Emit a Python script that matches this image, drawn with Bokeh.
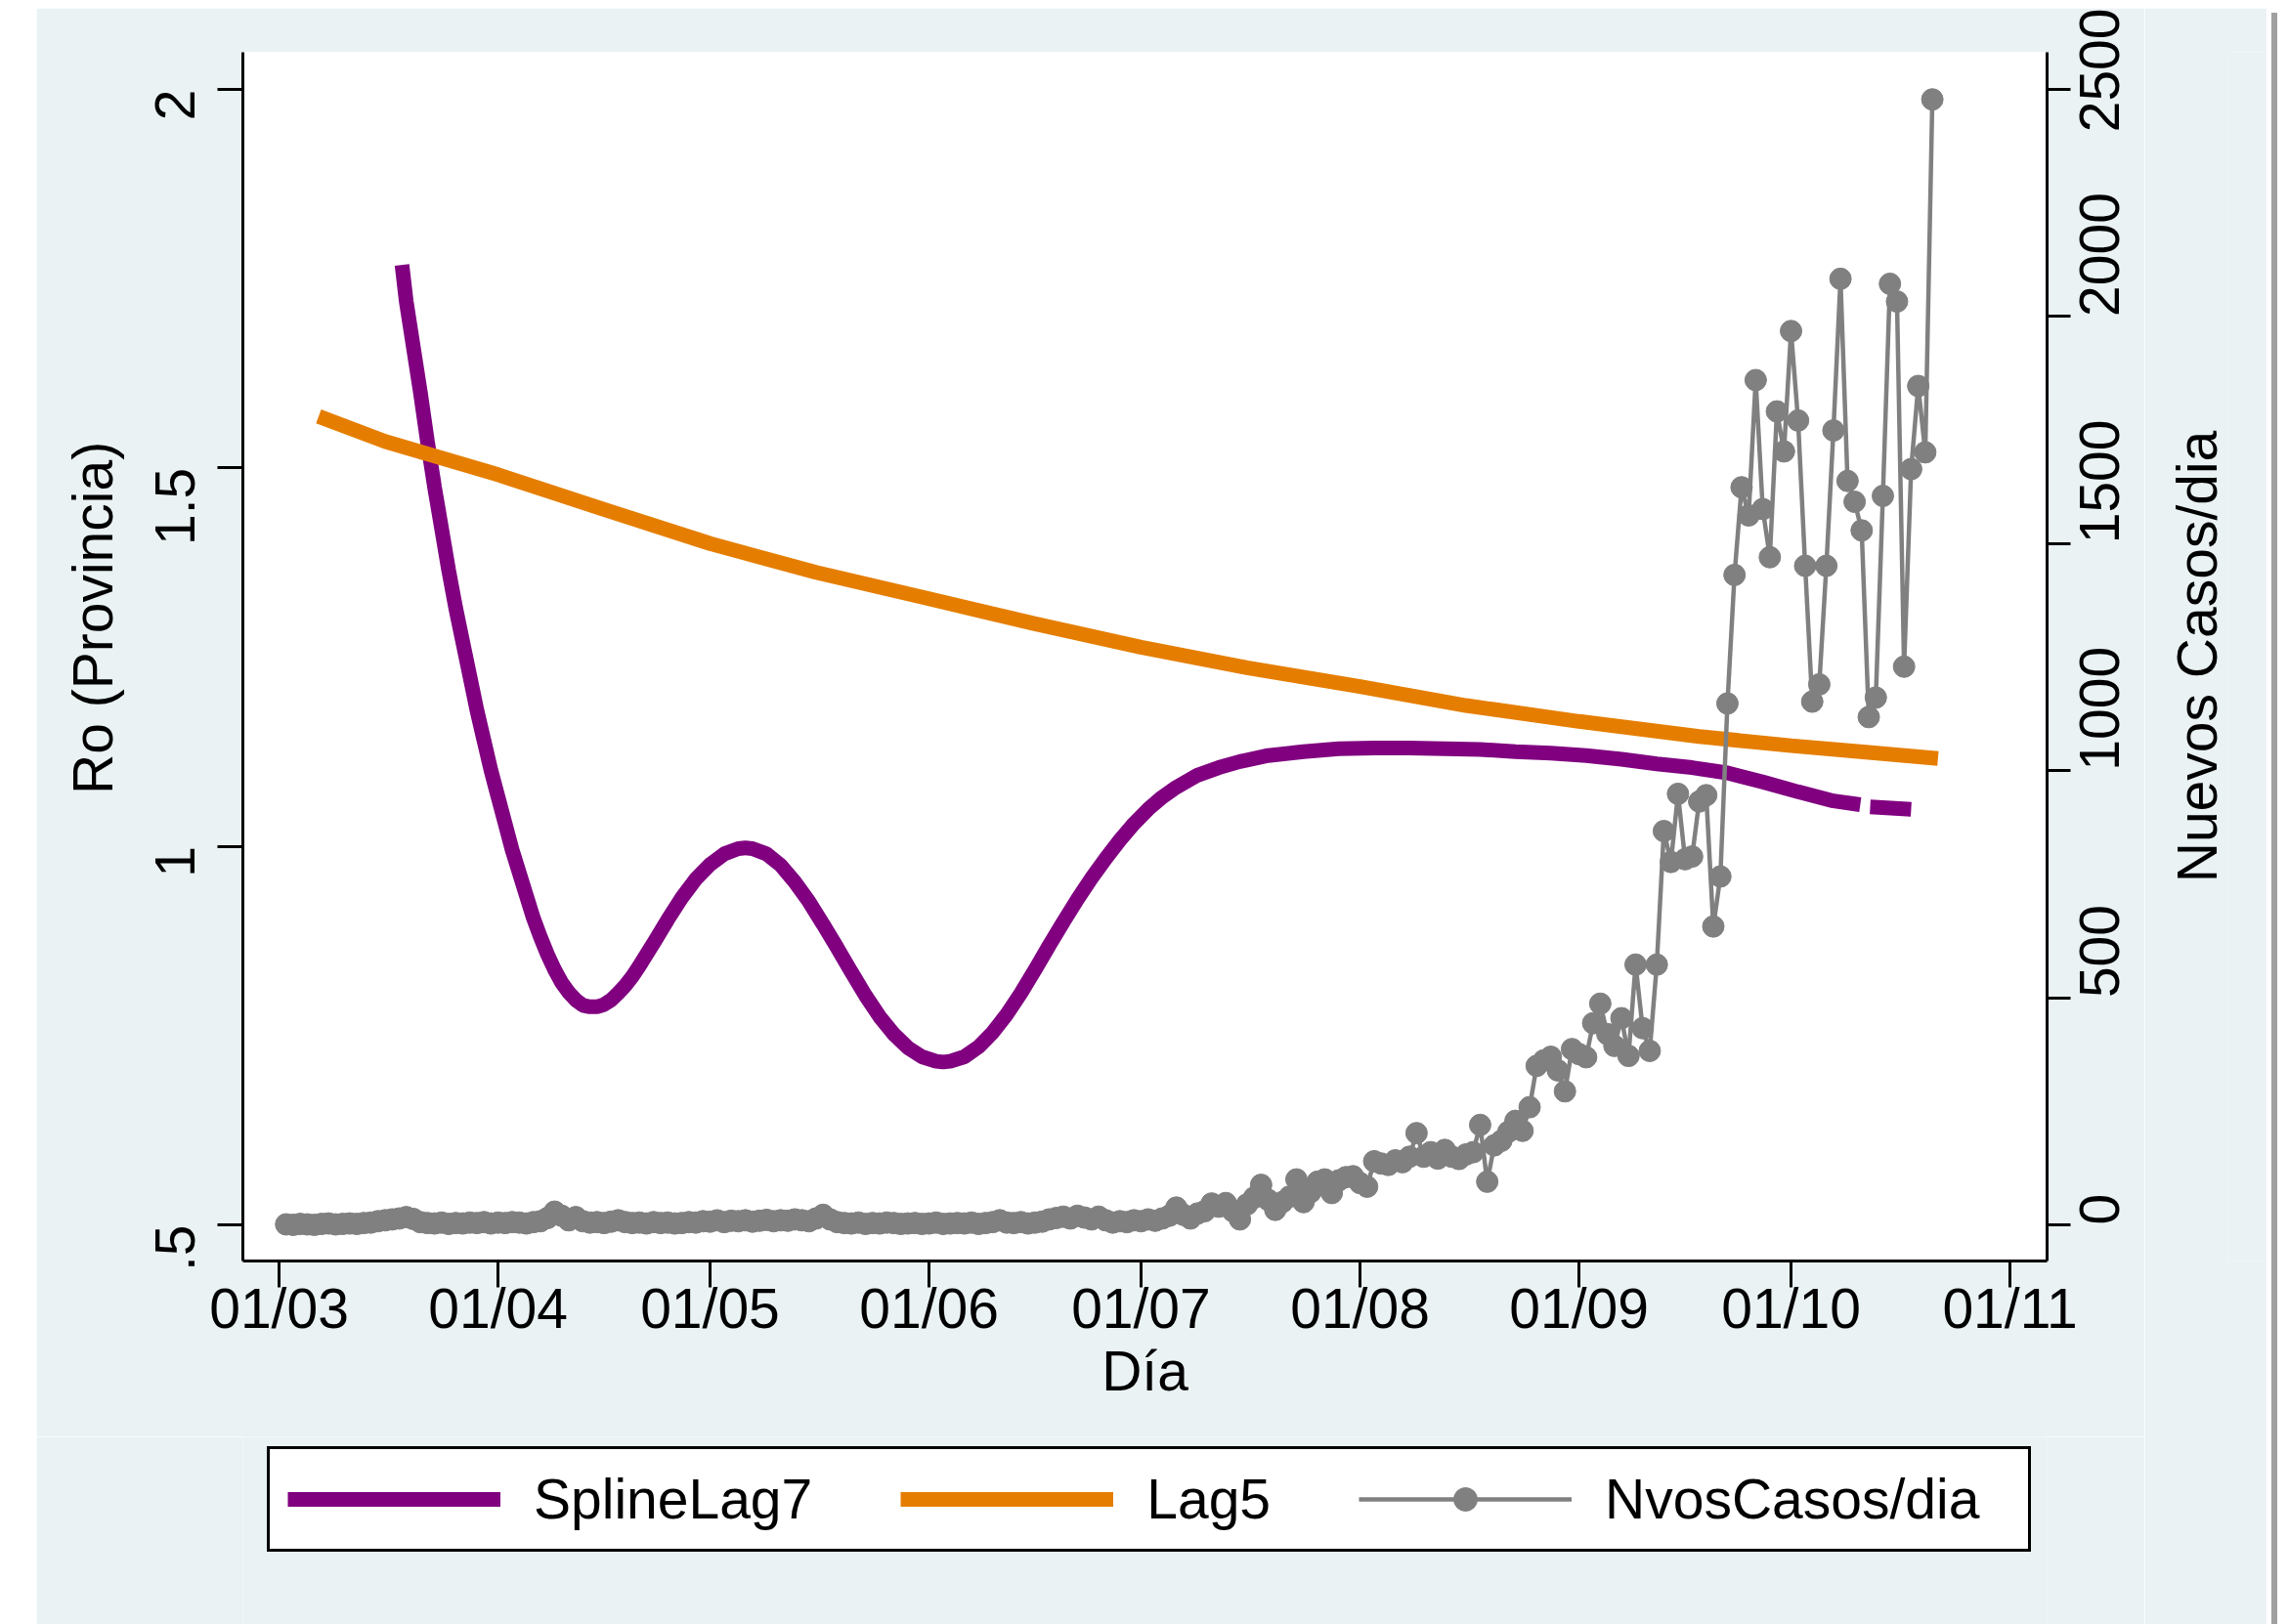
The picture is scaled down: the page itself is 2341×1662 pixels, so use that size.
import math
import pandas as pd
from bokeh.plotting import figure
from bokeh.models import (Range1d, LinearAxis, FixedTicker, DatetimeTickFormatter,
                          Legend, LegendItem, Spacer, Div, ColumnDataSource)
from bokeh.layouts import row, column
from bokeh.embed import file_html
from bokeh.resources import INLINE

FONT = "Liberation Sans"
FS = "57px"
BG = "#EAF2F3"
NBSP = "\u00a0"

# ---------------- data ----------------
base_date = "2020-03-01"          # day 0 of the day offsets below

cases_first_day = 1               # 02/03
cases = [
    1, 0, 2, 1, 0, 2, 3, 1, 2, 3, 2, 4, 5,
    8, 10, 12, 14, 17, 13,
    6, 4, 3, 5, 2, 4, 3, 5, 4, 6, 3, 5, 4, 6, 5, 3, 6, 8,
    15, 29, 20, 10, 17, 8, 5, 6, 4, 7,
    10, 6, 4, 5, 3, 6, 4, 5, 3, 4, 6, 5,
    8, 7, 10, 6, 9, 8, 10, 7, 9, 11, 8, 10, 9, 12, 10, 8, 14,
    22, 12, 6, 4,
    3, 5, 2, 4, 3, 5, 4, 2, 3, 4, 2, 3, 5, 2, 3, 4, 3, 5, 2, 4, 6,
    10, 5, 4, 6, 3, 5, 7,
    12, 15, 18, 14, 20, 16, 12, 18, 10,
    5, 8, 6, 10, 8, 12, 9, 14, 20, 38, 22, 14, 25, 30, 47, 40, 48, 30, 12, 45, 60, 88,
    55, 33, 50, 62, 100, 50, 72, 95, 100, 70, 98, 105, 107, 92, 84, 140, 135, 132,
    142, 138, 150, 202, 150, 160, 146, 165, 150, 145, 155, 160, 220, 95, 175, 185, 205, 229,
    207, 259, 350, 362, 370, 340, 294, 387, 376, 369, 444, 487, 420, 394, 455, 372, 573,
    433, 383, 573, 867, 799, 949, 805, 811, 932, 946, 657, 767,
    1148, 1431, 1624, 1562, 1860, 1576, 1470, 1791, 1703, 1968, 1771, 1451, 1152, 1190,
    1451, 1749, 2083, 1638, 1592, 1529, 1118, 1161, 1605, 2072, 2033, 1229, 1664, 1847,
    1701, 2478,
]

NAN = float("nan")
spline_day = [
    17.4, 18, 19, 20, 21, 22, 23, 24, 25, 26, 27, 28, 29, 30, 31, 32, 33, 34, 35, 36,
    37, 38, 39, 40, 41, 42, 43, 44, 45, 46, 47, 48, 49, 50, 51, 53, 55, 57, 59, 61,
    63, 65, 66, 67, 69, 71, 73, 75, 77, 79, 81, 83, 85, 87, 89, 91, 93, 94, 95, 97,
    99, 101, 103, 105, 107, 109, 111, 113, 115, 117, 119, 121, 123, 125, 127, 130, 133, 136,
    140, 145, 150, 155, 160, 165, 170, 175, 180, 185, 190, 195, 200, 205, 210, 215,
    220, 223.8, 224.5, 225.2, 231,
]
spline_vals = [
    1.768, 1.72, 1.66, 1.60, 1.535, 1.475, 1.42, 1.365, 1.315, 1.27, 1.225, 1.18, 1.14,
    1.10, 1.065, 1.03, 0.995, 0.965, 0.935, 0.905,
    0.88, 0.857, 0.837, 0.82, 0.807, 0.797, 0.79, 0.788, 0.788, 0.791, 0.797, 0.806,
    0.816, 0.828, 0.842, 0.872, 0.903, 0.932, 0.957, 0.976,
    0.99, 0.997, 0.998, 0.997, 0.99, 0.975, 0.953, 0.927, 0.897, 0.866, 0.834, 0.803,
    0.775, 0.752, 0.734, 0.722, 0.716, 0.715, 0.716, 0.722,
    0.735, 0.754, 0.778, 0.806, 0.837, 0.869, 0.90, 0.93, 0.958, 0.984, 1.008, 1.03,
    1.049, 1.065, 1.078, 1.094, 1.104, 1.112,
    1.12, 1.125, 1.129, 1.13, 1.13, 1.129, 1.128, 1.125, 1.123, 1.12, 1.115, 1.109,
    1.104, 1.097, 1.085, 1.072,
    1.06, 1.055, NAN, 1.052, 1.049,
]

lag5_day = [5.6, 15, 31, 46, 61, 76, 92, 107, 122, 137, 153, 168, 184, 201, 214, 225, 234.8]
lag5_vals = [1.568, 1.535, 1.491, 1.445, 1.400, 1.362, 1.327, 1.294, 1.263, 1.236,
             1.211, 1.186, 1.165, 1.145, 1.133, 1.124, 1.116]

month_ticks = ["2020-03-01", "2020-04-01", "2020-05-01", "2020-06-01", "2020-07-01",
               "2020-08-01", "2020-09-01", "2020-10-01", "2020-11-01"]
left_ticks = [0.5, 1, 1.5, 2]
left_labels = [".5", "1", "1.5", "2"]
right_ticks = [0, 500, 1000, 1500, 2000, 2500]

x_limits_day = (-5.12, 250.24)
y_limits = (0.4522, 2.049)
cases_limits = (-79.6, 2581.8)

series_names = ["SplineLag7", "Lag5", "NvosCasos/dia"]
series_colors = ["#800080", "#E57E00", "#808080"]
x_title = "Día"
y_title = "Ro (Provincia)"
y2_title = "Nuevos Casos/dia"

BASE = pd.Timestamp(base_date)


def to_dt(days):
    return [BASE + pd.Timedelta(days=float(d)) for d in days]


def ms(ts):
    return pd.Timestamp(ts).value / 1e6


# ---------------- main figure ----------------
p = figure(width=2157, height=1462, x_axis_type="datetime",
           output_backend="svg", toolbar_location=None,
           x_range=Range1d(ms(to_dt([x_limits_day[0]])[0]), ms(to_dt([x_limits_day[1]])[0])),
           y_range=Range1d(*y_limits),
           min_border_left=211, min_border_right=100,
           min_border_top=45, min_border_bottom=180)
p.extra_y_ranges = {"cases": Range1d(*cases_limits)}
p.background_fill_color = "white"
p.border_fill_color = BG
p.outline_line_color = None
p.xgrid.visible = False
p.ygrid.visible = False

spline_src = ColumnDataSource(dict(x=to_dt(spline_day), y=spline_vals))
lag5_src = ColumnDataSource(dict(x=to_dt(lag5_day), y=lag5_vals))
case_days = list(range(cases_first_day, cases_first_day + len(cases)))
case_src = ColumnDataSource(dict(x=to_dt(case_days), y=cases))

p.line("x", "y", source=spline_src, line_color=series_colors[0], line_width=15)
p.line("x", "y", source=lag5_src, line_color=series_colors[1], line_width=15)
p.line("x", "y", source=case_src, line_color=series_colors[2], line_width=4.5,
       y_range_name="cases")
p.scatter("x", "y", source=case_src, size=22, fill_color=series_colors[2],
          line_color=series_colors[2], y_range_name="cases")


def style(ax, standoff, tick_out):
    ax.axis_line_color = "black"
    ax.axis_line_width = 3
    ax.major_tick_line_color = "black"
    ax.major_tick_line_width = 3
    ax.major_tick_out = tick_out
    ax.major_tick_in = 0
    ax.minor_tick_line_color = None
    ax.major_label_text_font = FONT
    ax.major_label_text_font_size = FS
    ax.major_label_text_color = "black"
    ax.major_label_standoff = standoff
    ax.axis_label_text_font = FONT
    ax.axis_label_text_font_size = FS
    ax.axis_label_text_font_style = "normal"
    ax.axis_label_text_color = "black"


xa = p.xaxis[0]
xa.ticker = FixedTicker(ticks=[ms(t) for t in month_ticks])
fmt = "%d/%m"
xa.formatter = DatetimeTickFormatter(microseconds=fmt, milliseconds=fmt, seconds=fmt,
                                     minsec=fmt, minutes=fmt, hourmin=fmt, hours=fmt,
                                     days=fmt, months=fmt, years=fmt)
style(xa, -11, 27)
xa.axis_label = x_title
xa.axis_label_standoff = -3

ya = p.yaxis[0]
ya.ticker = FixedTicker(ticks=left_ticks)
ya.major_label_overrides = {t: l for t, l in zip(left_ticks, left_labels)}
style(ya, 43, 26)
ya.major_label_orientation = math.pi / 2
# leading no-break spaces lift the centred title a little, as in the original
ya.axis_label = NBSP * 5 + y_title
ya.axis_label_standoff = 10

ra = LinearAxis(y_range_name="cases", ticker=FixedTicker(ticks=right_ticks))
style(ra, 30, 24)
ra.major_label_orientation = math.pi / 2
p.add_layout(ra, "right")

# ---------------- right title strip: its left-axis title reads bottom-to-top ----------------
pt = figure(width=125, height=1654, output_backend="svg", toolbar_location=None,
            x_range=Range1d(0, 1), y_range=Range1d(0, 1), x_axis_location=None,
            min_border_left=85, min_border_right=0, min_border_top=45, min_border_bottom=372)
pt.background_fill_color = BG
pt.border_fill_color = BG
pt.outline_line_color = None
pt.grid.visible = False
ta = pt.yaxis[0]
ta.ticker = FixedTicker(ticks=[])
ta.axis_line_color = None
ta.major_tick_line_color = None
ta.minor_tick_line_color = None
ta.axis_label = y2_title
ta.axis_label_text_font = FONT
ta.axis_label_text_font_size = FS
ta.axis_label_text_font_style = "normal"
ta.axis_label_text_color = "black"
ta.axis_label_standoff = 0

# ---------------- legend strip (own figure so the box is not clipped) ----------------
pl = figure(width=2157, height=192, output_backend="svg", toolbar_location=None,
            x_range=Range1d(0, 1), y_range=Range1d(0, 1),
            x_axis_location=None, y_axis_location=None,
            min_border_left=0, min_border_right=0, min_border_top=0, min_border_bottom=0)
pl.background_fill_color = BG
pl.border_fill_color = BG
pl.outline_line_color = None
pl.grid.visible = False
# same data sources; they fall outside this strip's ranges, only the legend shows
g1 = pl.line("x", "y", source=spline_src, line_color=series_colors[0], line_width=15)
g2 = pl.line("x", "y", source=lag5_src, line_color=series_colors[1], line_width=15)
g3 = pl.line("x", "y", source=case_src, line_color=series_colors[2], line_width=4.5)
g4 = pl.scatter("x", "y", source=case_src, size=22, fill_color=series_colors[2],
                line_color=series_colors[2])

legend = Legend(items=[LegendItem(label=series_names[0], renderers=[g1]),
                       LegendItem(label=series_names[1], renderers=[g2]),
                       LegendItem(label=series_names[2] + NBSP * 2, renderers=[g3, g4])],
                location=(25, 74), orientation="horizontal", margin=0,
                padding=18, spacing=90, glyph_width=218, glyph_height=60,
                label_standoff=34, label_text_font=FONT, label_text_font_size=FS,
                label_text_baseline="middle", label_text_color="black",
                border_line_color="black", border_line_width=3, border_line_alpha=1.0,
                background_fill_color="white", background_fill_alpha=1.0)
pl.add_layout(legend)

layout = column(Spacer(width=10, height=8),
                row(Spacer(width=37, height=1654), column(p, pl), pt,
                    Div(text="", width=6, height=1654,
                        styles={"background-color": "#A0A0A0"})))

open("out.html", "w").write(file_html(layout, INLINE))
